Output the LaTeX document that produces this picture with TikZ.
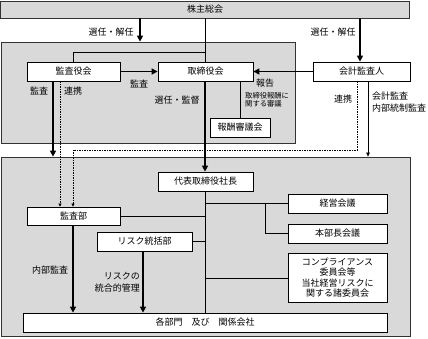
\documentclass[tikz,border=0pt]{standalone}
\usepackage{fontspec}
\setmainfont{Noto Sans CJK JP}
\usetikzlibrary{arrows.meta,calc}
\definecolor{regiongray}{HTML}{D9D9D9}
\tikzset{
  box/.style={draw=black,line width=0.8pt,fill=white,inner sep=0pt,font=\fontsize{9}{10.5}\selectfont,align=center},
  region/.style={draw=black!80,line width=0.8pt,fill=regiongray,inner sep=0pt},
  thin/.style={line width=0.6pt},
  bigarrow/.style={line width=1.6pt,-{Triangle[length=6pt,width=6pt]}},
  thinarrow/.style={line width=0.6pt,-{Triangle[length=4pt,width=3.5pt]}},
  dotline/.style={line width=0.8pt,dash pattern=on 1.5pt off 1pt},
  lbl/.style={font=\fontsize{9}{10.5}\selectfont,inner sep=0pt},
  smalllbl/.style={font=\fontsize{7.3}{8.5}\selectfont,inner sep=0pt,align=left},
}
\begin{document}
\begin{tikzpicture}[x=1pt,y=-1pt]
\useasboundingbox (0,0) rectangle (428,338);
% regions
\node[region,minimum width=409pt,minimum height=17pt,font=\fontsize{9}{10.5}\selectfont] (kab) at (205,9.5) {株主総会};
\node[region,minimum width=294pt,minimum height=101pt] (upper) at (148,92.5) {};
\node[region,minimum width=409pt,minimum height=179pt] (lower) at (205.5,246.5) {};
% boxes
\node[box,minimum width=93pt,minimum height=19pt] (kansayaku) at (73.5,71.5) {監査役会};
\node[box,minimum width=95pt,minimum height=19pt] (torishimari) at (205.5,71.5) {取締役会};
\node[box,minimum width=97pt,minimum height=19pt] (kaikei) at (361.5,71.5) {会計監査人};
\node[box,minimum width=60pt,minimum height=19pt] (hoshu) at (240,127.5) {報酬審議会};
\node[box,minimum width=95pt,minimum height=19pt] (daihyo) at (205.5,181.5) {代表取締役社長};
\node[box,minimum width=99pt,minimum height=19pt] (keiei) at (337.5,203.5) {経営会議};
\node[box,minimum width=99pt,minimum height=19pt] (honbu) at (337.5,233.5) {本部長会議};
\node[box,minimum width=99pt,minimum height=49pt] (comp) at (337.5,277.5) {コンプライアンス\\委員会等\\当社経営リスクに\\関する諸委員会};
\node[box,minimum width=93pt,minimum height=18pt] (kansabu) at (73.5,216) {監査部};
\node[box,minimum width=95pt,minimum height=19pt] (risk) at (144.5,241.5) {リスク統括部};
\node[box,minimum width=364pt,minimum height=19pt] (kaku) at (205,322.5) {各部門\hspace{1em}及び\hspace{1em}関係会社};
% x coordinates
\coordinate (x53) at (53,0);
\coordinate (x60) at (60,0);
\coordinate (x73) at (73,0);
\coordinate (x140) at (140,0);
\coordinate (x143) at (143,0);
\coordinate (x205) at (205,0);
\coordinate (x240) at (240,0);
\coordinate (x265) at (265,0);
\coordinate (x357) at (357,0);
\coordinate (x360) at (360,0);
\coordinate (x368) at (368,0);
\coordinate (yb) at (0,52);
\coordinate (ydot) at (0,150);
\coordinate (yk) at (0,203);
\coordinate (yc) at (0,278);
% connectors
\draw[bigarrow] (kab.south -| x140) -- (upper.north -| x140);
\draw[bigarrow] (kab.south -| x360) -- (kaikei.north -| x360);
\draw[thin] (kab.south -| x205) -- (torishimari.north -| x205);
\draw[thin] (yb -| x205) -| (kansayaku.north -| x73);
\draw[bigarrow] (kansayaku.east) -- (torishimari.west);
\draw[bigarrow] (kaikei.west) -- (torishimari.east);
\draw[bigarrow] (kansayaku.south -| x53) -- (lower.north -| x53);
\draw[dotline,-{Triangle[length=3pt,width=3pt]}] (kansayaku.south -| x60) -- (kansabu.north -| x60);
\draw[dotline,-{Triangle[length=3pt,width=3pt]}] (kaikei.south -| x357) -- (ydot -| x357) -- (ydot -| x73) -- (kansabu.north -| x73);
\draw[thinarrow] (kaikei.south -| x368) -- (lower.north -| x368);
\draw[bigarrow] (torishimari.south -| x205) -- (daihyo.north -| x205);
\draw[thin] (torishimari.south -| x240) -- (hoshu.north);
\draw[thin] (daihyo.south -| x205) -- (kaku.north -| x205);
\draw[thin] (yk -| x205) -- (keiei.west |- yk);
\draw[thin] (yk -| x265) |- (honbu.west);
\draw[thin] (yc -| x205) -- (comp.west |- yc);
\draw[thin] (kansabu.east) -- (kansabu.east -| x205);
\draw[thin] (risk.east) -- (risk.east -| x205);
\draw[bigarrow] (kansabu.south -| x73) -- (kaku.north -| x73);
\draw[bigarrow] (risk.south -| x143) -- (kaku.north -| x143);
% labels
\node[lbl] (l1) at (111,32) {選任・解任};
\node[lbl] (l2) at (333,32) {選任・解任};
\node[lbl] (l3) at (139,83.5) {監査};
\node[lbl] (l4) at (265,83.5) {報告};
\node[lbl] (l5) at (39,91) {監査};
\node[lbl] (l6) at (73,91) {連携};
\node[lbl] (l7) at (177,100.5) {選任・監督};
\node[smalllbl,anchor=west] (l8) at (245,100) {取締役報酬に\\関する審議};
\node[lbl] (l9) at (343,99.5) {連携};
\node[lbl,anchor=west,align=left,font=\fontsize{9}{11.5}\selectfont] (l10) at (372,102) {会計監査\\内部統制監査};
\node[lbl] (l11) at (50,270) {内部監査};
\node[lbl,anchor=east,align=right,font=\fontsize{9}{11.5}\selectfont] (l12) at (140,282) {リスクの\\統合的管理};
\end{tikzpicture}
\end{document}
